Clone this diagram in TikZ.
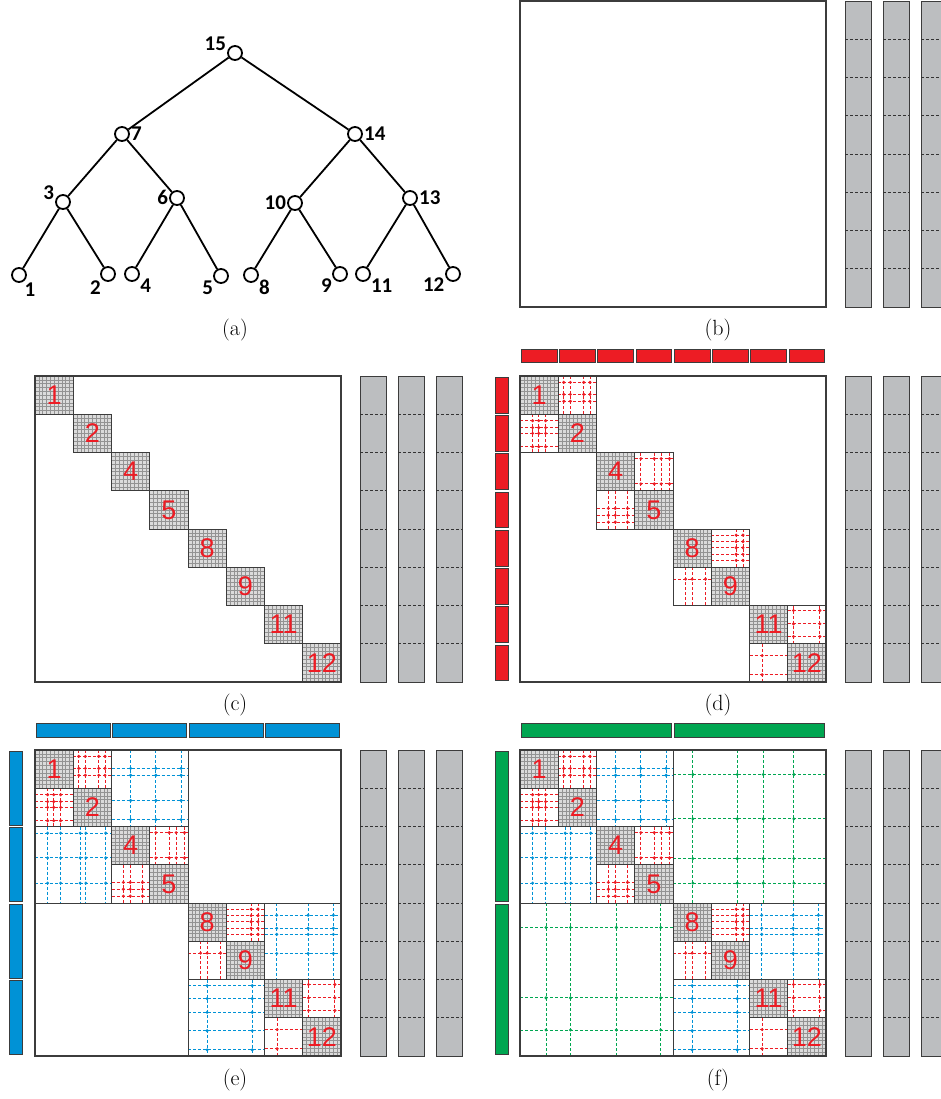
\documentclass[tikz,border=0pt]{standalone}
\usepackage{fontspec}
\newfontfamily\treefont{Carlito}
\newfontfamily\numfont{Liberation Sans}
\definecolor{myred}{RGB}{237,28,36}
\definecolor{myblue}{RGB}{0,146,214}
\definecolor{mygreen}{RGB}{0,166,81}
\definecolor{colgray}{RGB}{188,190,192}
\definecolor{edgegray}{RGB}{60,60,60}
\tikzset{
 blkborder/.style={draw=edgegray, line width=1pt},
 dl/.style={dash pattern=on 3pt off 2pt, line width=0.85pt},
 bar/.style={draw=edgegray, line width=0.8pt},
 gcol/.style={draw=edgegray, fill=colgray, line width=0.9pt},
 gdash/.style={draw=black!80, dash pattern=on 3pt off 2pt, line width=0.6pt},
 tn/.style={circle, draw, line width=1.8pt, minimum size=14pt, inner sep=0pt},
 tl/.style={font=\treefont\bfseries\fontsize{21}{21}\selectfont, label distance=0pt, inner sep=1pt},
 tedge/.style={line width=1.8pt},
 captext/.style={font=\fontsize{22}{24}\selectfont},
 blknum/.style={font=\numfont\fontsize{27}{27}\selectfont, text=myred, inner sep=0pt},
}
\newcommand\offblk[7]{%
 \foreach \xf in {#6}{\draw[dl,#5] ({#1+\xf*#3},{#2}) -- ({#1+\xf*#3},{#2+#4});}
 \foreach \yf in {#7}{\draw[dl,#5] ({#1},{#2+\yf*#4}) -- ({#1+#3},{#2+\yf*#4});}
 \foreach \xf in {#6}{\foreach \yf in {#7}{\fill[#5] ({#1+\xf*#3},{#2+\yf*#4}) circle (1.7pt);}}
 \draw[blkborder] (#1,#2) rectangle ({#1+#3},{#2+#4});
}
\newcommand\diagblk[3]{%
 \fill[gray!28] (#1,#1) rectangle ({#1+1},{#1+1});
 \foreach \g in {1,...,9}{%
   \draw[gray!85,line width=0.5pt] ({#1+\g/10},#1) -- ({#1+\g/10},{#1+1});
   \draw[gray!85,line width=0.5pt] (#1,{#1+\g/10}) -- ({#1+1},{#1+\g/10});}
 \draw[blkborder] (#1,#1) rectangle ({#1+1},{#1+1});
 \node[blknum] (#3#2) at ({#1+0.5},{#1+0.5}) {#2};
}
\newcommand\gcols[2]{%
 \foreach \c in {325,363,401}{%
   \draw[gcol] ({#1+\c},#2) rectangle ({#1+\c+26},{#2+306});
   \foreach \k in {1,...,7}{\draw[gdash] ({#1+\c},{#2+\k*38.25}) -- ({#1+\c+26},{#2+\k*38.25});}
 }
}
\newcommand\mpanel[4]{%
 \begin{scope}[shift={(#1,#2)}, x=38.25pt, y=-38.25pt]
 \ifnum#4>2
  \offblk{4}{0}{4}{4}{mygreen}{0.13,0.42,0.59,0.79}{0.16,0.45,0.71,0.87}
  \offblk{0}{4}{4}{4}{mygreen}{0.17,0.33,0.63,0.92}{0.16,0.62,0.83}
 \fi
 \ifnum#4>1
  \offblk{2}{0}{2}{2}{myblue}{0.25,0.58,0.91}{0.24,0.33,0.66,0.91}
  \offblk{0}{2}{2}{2}{myblue}{0.165,0.335,0.59,0.665,0.925}{0.087,0.41,0.74}
  \offblk{6}{4}{2}{2}{myblue}{0.16,0.57,0.9}{0.16,0.33,0.41,0.66}
  \offblk{4}{6}{2}{2}{myblue}{0.25,0.84}{0.08,0.25,0.43,0.67,0.92}
 \fi
 \ifnum#4>0
  \offblk{1}{0}{1}{1}{myred}{0.145,0.316,0.667,0.829}{0.167,0.48,0.66}
  \offblk{0}{1}{1}{1}{myred}{0.33,0.49,0.67}{0.17,0.35,0.5,0.85}
  \offblk{3}{2}{1}{1}{myred}{0.16,0.51,0.69,0.91}{0.16,0.82}
  \offblk{2}{3}{1}{1}{myred}{0.31,0.49,0.81}{0.46,0.64,0.82}
  \offblk{5}{4}{1}{1}{myred}{0.65,0.83}{0.16,0.33,0.49,0.66,0.82}
  \offblk{4}{5}{1}{1}{myred}{0.33,0.5,0.85}{0.31}
  \offblk{7}{6}{1}{1}{myred}{0.15,0.84}{0.13,0.48,0.81}
  \offblk{6}{7}{1}{1}{myred}{0.33}{0.31,0.81}
 \fi
 \foreach \i/\lab in {0/1,1/2,2/4,3/5,4/8,5/9,6/11,7/12}{\diagblk{\i}{\lab}{#3}}
 \draw[blkborder, line width=1.2pt] (0,0) rectangle (8,8);
 \end{scope}}
\begin{document}
\begin{tikzpicture}[x=1pt,y=-1pt]
\useasboundingbox (0,0) rectangle (941,1099);
\clip (0,0) rectangle (941,1099);
% ---- (a) tree
\node[tn, label={[tl]172:15}] (n15) at (235,53) {};
\node[tn, label={[tl]0:7}] (n7) at (122,134) {};
\node[tn, label={[tl]0:14}] (n14) at (355,134) {};
\node[tn, label={[tl]175:3}] (n3) at (63,202) {};
\node[tn, label={[tl]178:6}] (n6) at (177,198) {};
\node[tn, label={[tl]180:10}] (n10) at (295,203) {};
\node[tn, label={[tl]0:13}] (n13) at (410,198) {};
\node[tn, label={[tl]-55:1}] (n1) at (19,275) {};
\node[tn, label={[tl]-140:2}] (n2) at (108,274) {};
\node[tn, label={[tl]-25:4}] (n4) at (132,274) {};
\node[tn, label={[tl]-150:5}] (n5) at (221,276) {};
\node[tn, label={[tl]-30:8}] (n8) at (251,275) {};
\node[tn, label={[tl]-155:9}] (n9) at (340,274) {};
\node[tn, label={[tl]-30:11}] (n11) at (363,274) {};
\node[tn, label={[tl]-160:12}] (n12) at (453,274) {};
\foreach \a/\b in {15/7,15/14,7/3,7/6,14/10,14/13,3/1,3/2,6/4,6/5,10/8,10/9,13/11,13/12}{\draw[tedge] (n\a) -- (n\b);}
\node[captext] (capa) at (235,330) {(a)};
% ---- (b)
\draw[blkborder, line width=1.2pt] (520,1) rectangle (826,307);
\gcols{520}{1}
\node[captext] (capb) at (718,330) {(b)};
% ---- (c)
\mpanel{35}{376}{c}{0}
\gcols{35}{376}
\node[captext] (capc) at (235,705) {(c)};
% ---- (d)
\foreach \k in {0,...,7}{\draw[bar,fill=myred] ({520+\k*38.25+1.2},349) rectangle ({520+(\k+1)*38.25-1.2},362);}
\foreach \k in {0,...,7}{\draw[bar,fill=myred] (495,{376+\k*38.25+1.2}) rectangle (508,{376+(\k+1)*38.25-1.2});}
\mpanel{520}{376}{d}{1}
\gcols{520}{376}
\node[captext] (capd) at (718,705) {(d)};
% ---- (e)
\foreach \k in {0,...,3}{\draw[bar,fill=myblue] ({35+\k*76.5+1.2},723) rectangle ({35+(\k+1)*76.5-1.2},737);}
\foreach \k in {0,...,3}{\draw[bar,fill=myblue] (9,{750+\k*76.5+1.2}) rectangle (22,{750+(\k+1)*76.5-1.2});}
\mpanel{35}{750}{e}{2}
\gcols{35}{750}
\node[captext] (cape) at (235,1080) {(e)};
% ---- (f)
\foreach \k in {0,1}{\draw[bar,fill=mygreen] ({520+\k*153+1.2},723) rectangle ({520+(\k+1)*153-1.2},737);}
\foreach \k in {0,1}{\draw[bar,fill=mygreen] (495,{750+\k*153+1.2}) rectangle (508,{750+(\k+1)*153-1.2});}
\mpanel{520}{750}{f}{3}
\gcols{520}{750}
\node[captext] (capf) at (718,1080) {(f)};
\end{tikzpicture}
\end{document}
